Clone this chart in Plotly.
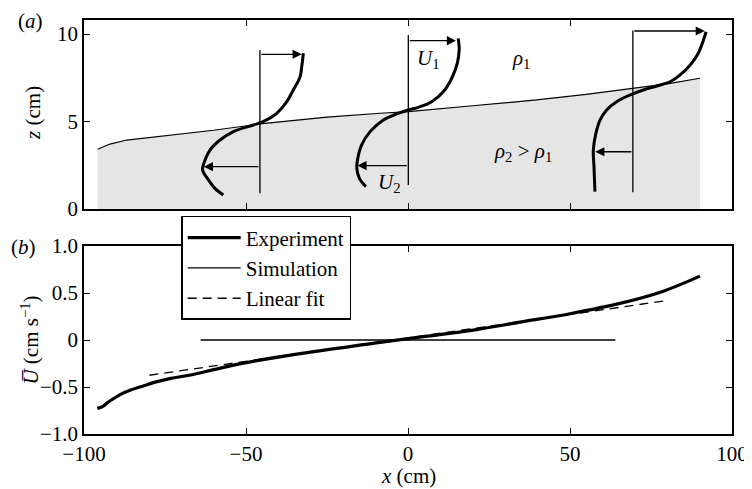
import plotly.graph_objects as go

# ---------------- Panel (a): interface and velocity profiles ----------------
interface_x = [-95.8, -92.0, -86.8, -76.0, -60.0, -45.7, -25.0, -8.6, 0.1, 20.0, 39.7, 55.0, 68.8, 80.0, 90.1]
interface_z = [3.41, 3.71, 3.94, 4.17, 4.50, 4.86, 5.25, 5.47, 5.56, 5.90, 6.23, 6.55, 6.90, 7.15, 7.47]

profile_x0 = [-45.7, 0.1, 69.4]        # reference (zero-velocity) positions
profile_zbot = [0.9, 1.37, 0.96]
profile_ztop = [9.09, 9.94, 10.2]
u1_z = [8.84, 9.62, 10.17]
u1_tip = [-32.8, 14.8, 91.6]
u2_z = [2.42, 2.48, 3.27]
u2_tip = [-63.0, -15.6, 57.8]

prof1_x = [-32.3, -32.8, -33.3, -35.4, -37.4, -40.5, -44.7, -47.7, -53.9, -58.0, -61.1, -63.0, -63.4, -61.6, -59.6, -57.0]
prof1_z = [8.90, 8.13, 7.56, 6.80, 6.13, 5.47, 4.99, 4.80, 4.42, 3.94, 3.37, 2.61, 2.23, 1.66, 1.18, 0.80]
prof2_x = [15.5, 15.8, 15.2, 13.5, 10.9, 7.3, 3.2, 0.1, -3.5, -7.6, -11.7, -14.3, -15.6, -15.8, -15.0, -13.0]
prof2_z = [9.75, 9.09, 8.32, 7.47, 6.70, 6.13, 5.81, 5.66, 5.43, 5.09, 4.42, 3.66, 2.80, 2.32, 1.75, 1.28]
prof3_x = [92.0, 91.2, 89.6, 87.1, 84.0, 80.9, 76.8, 72.6, 68.5, 64.4, 61.3, 59.3, 58.0, 57.2, 57.4, 57.7]
prof3_z = [10.13, 9.66, 8.90, 8.23, 7.66, 7.27, 7.03, 6.80, 6.51, 6.13, 5.66, 5.09, 4.33, 3.37, 2.42, 0.99]

label_text = ["<i>U</i><sub>1</sub>", "<i>U</i><sub>2</sub>", "<i>ρ</i><sub>1</sub>", "<i>ρ</i><sub>2</sub> > <i>ρ</i><sub>1</sub>"]
label_x = [6.2, -5.6, 35.0, 35.5]
label_z = [8.55, 1.5, 8.55, 3.25]

# ---------------- Panel (b): depth-averaged velocity ----------------
exp_x = [-95.9, -94.3, -92.8, -90.7, -88.7, -85.6, -81.5, -77.4, -73.2, -67.1, -60.0, -50.0, -33.3, -8.6, 0.1, 19.1, 34.6, 50.0, 65.4, 78.8, 90.1]
exp_u = [-0.727, -0.709, -0.667, -0.62, -0.578, -0.532, -0.486, -0.443, -0.408, -0.372, -0.315, -0.24, -0.145, -0.025, 0.015, 0.10, 0.19, 0.28, 0.39, 0.52, 0.68]
sim_x = [-64.0, 64.0]
sim_u = [0.0, 0.0]
fit_x = [-79.8, 79.8]
fit_u = [-0.375, 0.42]

x_ticks = [-100, -50, 0, 50, 100]
x_ticktext = ["−100", "−50", "0", "50", "100"]
u_ticks = [-1.0, -0.5, 0.0, 0.5, 1.0]
u_ticktext = ["−1.0", "−0.5", "0", "0.5", "1.0"]
z_ticks = [0, 5, 10]

FONT = "Liberation Serif"
FS = 21

fig = go.Figure()

# shaded lower layer
fig.add_trace(go.Scatter(x=interface_x, y=interface_z, mode="lines", fill="tozeroy",
                         fillcolor="#e5e5e5", line=dict(color="black", width=1.2),
                         xaxis="x2", yaxis="y2", showlegend=False, hoverinfo="skip"))

profiles = [(prof1_x, prof1_z), (prof2_x, prof2_z), (prof3_x, prof3_z)]
for i, (px, pz) in enumerate(profiles):
    fig.add_trace(go.Scatter(x=[profile_x0[i], profile_x0[i]], y=[profile_zbot[i], profile_ztop[i]],
                             mode="lines", line=dict(color="black", width=1.3),
                             xaxis="x2", yaxis="y2", showlegend=False, hoverinfo="skip"))
    fig.add_trace(go.Scatter(x=px, y=pz, mode="lines", line=dict(color="black", width=3, shape="spline"),
                             xaxis="x2", yaxis="y2", showlegend=False, hoverinfo="skip"))

annotations = []
for i in range(3):
    for tip, zz in ((u1_tip[i], u1_z[i]), (u2_tip[i], u2_z[i])):
        annotations.append(dict(x=tip, y=zz, ax=profile_x0[i], ay=zz, xref="x2", yref="y2",
                                axref="x2", ayref="y2", showarrow=True, arrowhead=2,
                                arrowsize=1.4, arrowwidth=1.3, arrowcolor="black", text="", standoff=0))
for t, lx, lz in zip(label_text, label_x, label_z):
    annotations.append(dict(x=lx, y=lz, xref="x2", yref="y2", text=t, showarrow=False,
                            font=dict(family=FONT, size=FS, color="black")))

# bottom panel traces
fig.add_trace(go.Scatter(x=exp_x, y=exp_u, mode="lines", name="Experiment",
                         line=dict(color="black", width=3.2, shape="spline"),
                         xaxis="x", yaxis="y"))
fig.add_trace(go.Scatter(x=sim_x, y=sim_u, mode="lines", name="Simulation",
                         line=dict(color="black", width=1.3), xaxis="x", yaxis="y"))
fig.add_trace(go.Scatter(x=fit_x, y=fit_u, mode="lines", name="Linear fit",
                         line=dict(color="black", width=1.3, dash="9px,6px"),
                         xaxis="x", yaxis="y"))

# panel letters and axis titles
annotations += [
    dict(x=-0.082, y=0.997, xref="paper", yref="paper", text="(<i>a</i>)", showarrow=False,
         font=dict(family=FONT, size=FS, color="black"), xanchor="center", yanchor="middle"),
    dict(x=-0.093, y=0.452, xref="paper", yref="paper", text="(<i>b</i>)", showarrow=False,
         font=dict(family=FONT, size=FS, color="black"), xanchor="center", yanchor="middle"),
    dict(x=-0.079, y=0.775, xref="paper", yref="paper", text="<i>z</i> (cm)", textangle=-90,
         showarrow=False, font=dict(family=FONT, size=FS, color="black"), xanchor="center", yanchor="middle"),
    dict(x=-0.084, y=0.227, xref="paper", yref="paper", text="<i>U̅</i> (cm s<sup>−1</sup>)", textangle=-90,
         showarrow=False, font=dict(family=FONT, size=FS, color="black"), xanchor="center", yanchor="middle"),
    dict(x=0.5, y=-0.102, xref="paper", yref="paper", text="<i>x</i> (cm)", showarrow=False,
         font=dict(family=FONT, size=FS, color="black"), xanchor="center", yanchor="middle"),
]

axis_common = dict(showline=True, linecolor="black", linewidth=1.6, mirror="allticks",
                   ticks="inside", ticklen=6, tickwidth=1.3, tickcolor="black",
                   showgrid=False, zeroline=False, automargin=False,
                   tickfont=dict(family=FONT, size=FS, color="black"))

# the page adds an 8px body margin; size the figure so the plot area lands where the reference has it
fig.update_layout(
    width=744, height=481,
    margin=dict(l=76, r=20, t=12, b=55),
    paper_bgcolor="white", plot_bgcolor="white",
    font=dict(family=FONT, size=FS, color="black"),
    xaxis=dict(domain=[0, 1], range=[-100, 100], tickvals=x_ticks, ticktext=x_ticktext, anchor="y", **axis_common),
    yaxis=dict(domain=[0, 0.454], range=[-1, 1], tickvals=u_ticks, ticktext=u_ticktext, anchor="x", **axis_common),
    xaxis2=dict(domain=[0, 1], range=[-100, 100], tickvals=x_ticks, showticklabels=False, anchor="y2", **axis_common),
    yaxis2=dict(domain=[0.5435, 1], range=[0, 10.8], tickvals=z_ticks, anchor="x2", **axis_common),
    legend=dict(x=0.15, y=0.5266, xanchor="left", yanchor="top", bgcolor="white",
                bordercolor="black", borderwidth=1.5, traceorder="normal",
                itemwidth=53, font=dict(family=FONT, size=FS, color="black")),
    annotations=annotations,
    showlegend=True,
)

fig.write_html("out.html")
